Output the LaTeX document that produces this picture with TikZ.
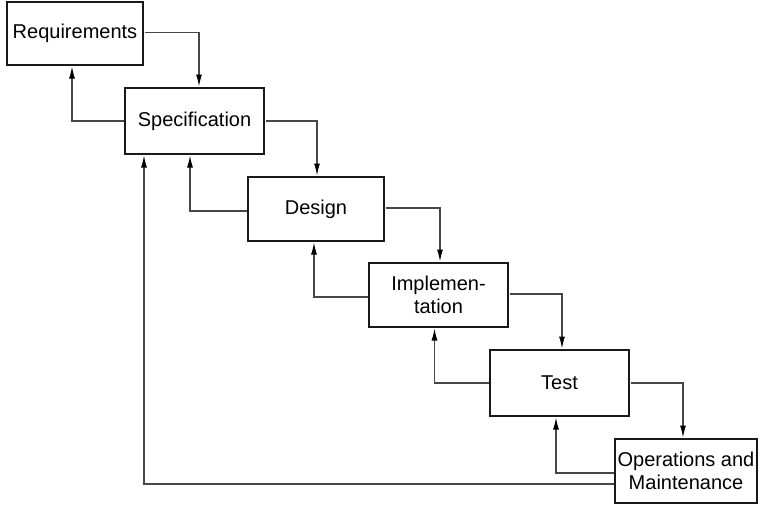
\documentclass[tikz,border=0pt]{standalone}
\usepackage{fontspec}
\setmainfont{Liberation Sans}
\usetikzlibrary{arrows.meta,calc}
\begin{document}
\begin{tikzpicture}[x=1pt,y=-1pt,
  phase/.style={draw=black!90,line width=1.1pt,fill=white,inner sep=0pt,outer sep=1.5pt,
     align=center,font=\fontsize{20}{23}\selectfont},
  link/.style={draw=black!72,line width=1.1pt,-{Latex[length=12pt,width=6pt,black]}},
  plain/.style={draw=black!72,line width=1.1pt}]
\useasboundingbox (0,0) rectangle (769,504);
\node[phase,minimum width=136pt,minimum height=63pt] (req) at (75,33.5) {Requirements};
\node[phase,minimum width=139pt,minimum height=66pt] (spec) at (194.5,121) {Specification};
\node[phase,minimum width=136pt,minimum height=64pt] (des) at (316,209) {Design};
\node[phase,minimum width=139pt,minimum height=64pt] (impl) at (438.5,295) {Implemen-\\tation};
\node[phase,minimum width=139pt,minimum height=66pt] (test) at (559.5,383) {Test};
\node[phase,minimum width=142pt,minimum height=64pt] (ops) at (686,471) {Operations and\\Maintenance};
% forward
\draw[link] ($(req.east)+(0,-1)$) -| ($(spec.north)+(4.5,0)$);
\draw[link] (spec.east) -| ($(des.north)+(1,0)$);
\draw[link] ($(des.east)+(0,-1)$) -| ($(impl.north)+(1.5,0)$);
\draw[link] ($(impl.east)+(0,-1)$) -| ($(test.north)+(2.5,0)$);
\draw[link] (test.east) -| ($(ops.north)+(-3,0)$);
% backward
\draw[link] (spec.west) -| ($(req.south)+(-3,0)$);
\draw[link] ($(des.west)+(0,2)$) -| ($(spec.south)+(-4.5,0)$);
\draw[link] ($(impl.west)+(0,2)$) -| ($(des.south)+(-2,0)$);
\draw[link] (test.west) -| ($(impl.south)+(-4,0)$);
\draw[link] ($(ops.west)+(0,2)$) -| ($(test.south)+(-3.5,0)$);
\draw[link] ($(ops.west)+(0,13)$) -| ($(spec.south)+(-50.5,0)$);
\end{tikzpicture}
\end{document}
